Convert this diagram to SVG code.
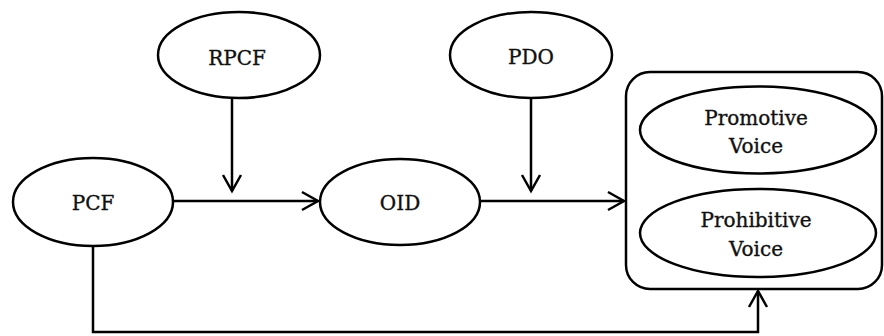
<svg xmlns="http://www.w3.org/2000/svg" width="884" height="336" viewBox="0 0 884 336">
<style>
.n{fill:#fff;stroke:#000;stroke-width:2.5}
.t{font-family:"DejaVu Serif",serif;font-size:20px;fill:#111;stroke:#111;stroke-width:0.35;text-anchor:middle}
.c{fill:none;stroke:#000;stroke-width:2.5}
</style>
<defs>
<marker id="ah" markerUnits="userSpaceOnUse" markerWidth="24" markerHeight="24" viewBox="-20 -12 24 24" refX="0" refY="0" orient="auto">
<path d="M-16,-9 L0,0 L-16,9" fill="none" stroke="#000" stroke-width="2.5"/>
</marker>
</defs>
<rect width="884" height="336" fill="#fff"/>
<g id="connectors">
<path class="c" d="M173,201 H318" marker-end="url(#ah)"/>
<path class="c" d="M232,98 V191" marker-end="url(#ah)"/>
<path class="c" d="M480,201 H624" marker-end="url(#ah)"/>
<path class="c" d="M531,98 V191" marker-end="url(#ah)"/>
<path class="c" d="M93,246 V332 H758 V291" marker-end="url(#ah)"/>
</g>
<g id="RPCF"><ellipse class="n" cx="239" cy="55" rx="81" ry="43"/><text class="t" x="237" y="65">RPCF</text></g>
<g id="PCF"><ellipse class="n" cx="93" cy="202" rx="80" ry="44"/><text class="t" x="93" y="210">PCF</text></g>
<g id="OID"><ellipse class="n" cx="400" cy="202" rx="80" ry="43"/><text class="t" x="400" y="210">OID</text></g>
<g id="PDO"><ellipse class="n" cx="531" cy="55" rx="81" ry="43"/><text class="t" x="531" y="64">PDO</text></g>
<g id="Voice">
<rect class="n" x="626" y="72" width="256" height="217" rx="24" ry="24"/>
<g id="Promotive"><ellipse class="n" cx="758" cy="130" rx="118" ry="43.5"/><text class="t" x="756" y="125">Promotive</text><text class="t" x="756" y="153">Voice</text></g>
<g id="Prohibitive"><ellipse class="n" cx="758" cy="233" rx="118" ry="44"/><text class="t" x="756" y="227">Prohibitive</text><text class="t" x="756" y="256">Voice</text></g>
</g>
</svg>
